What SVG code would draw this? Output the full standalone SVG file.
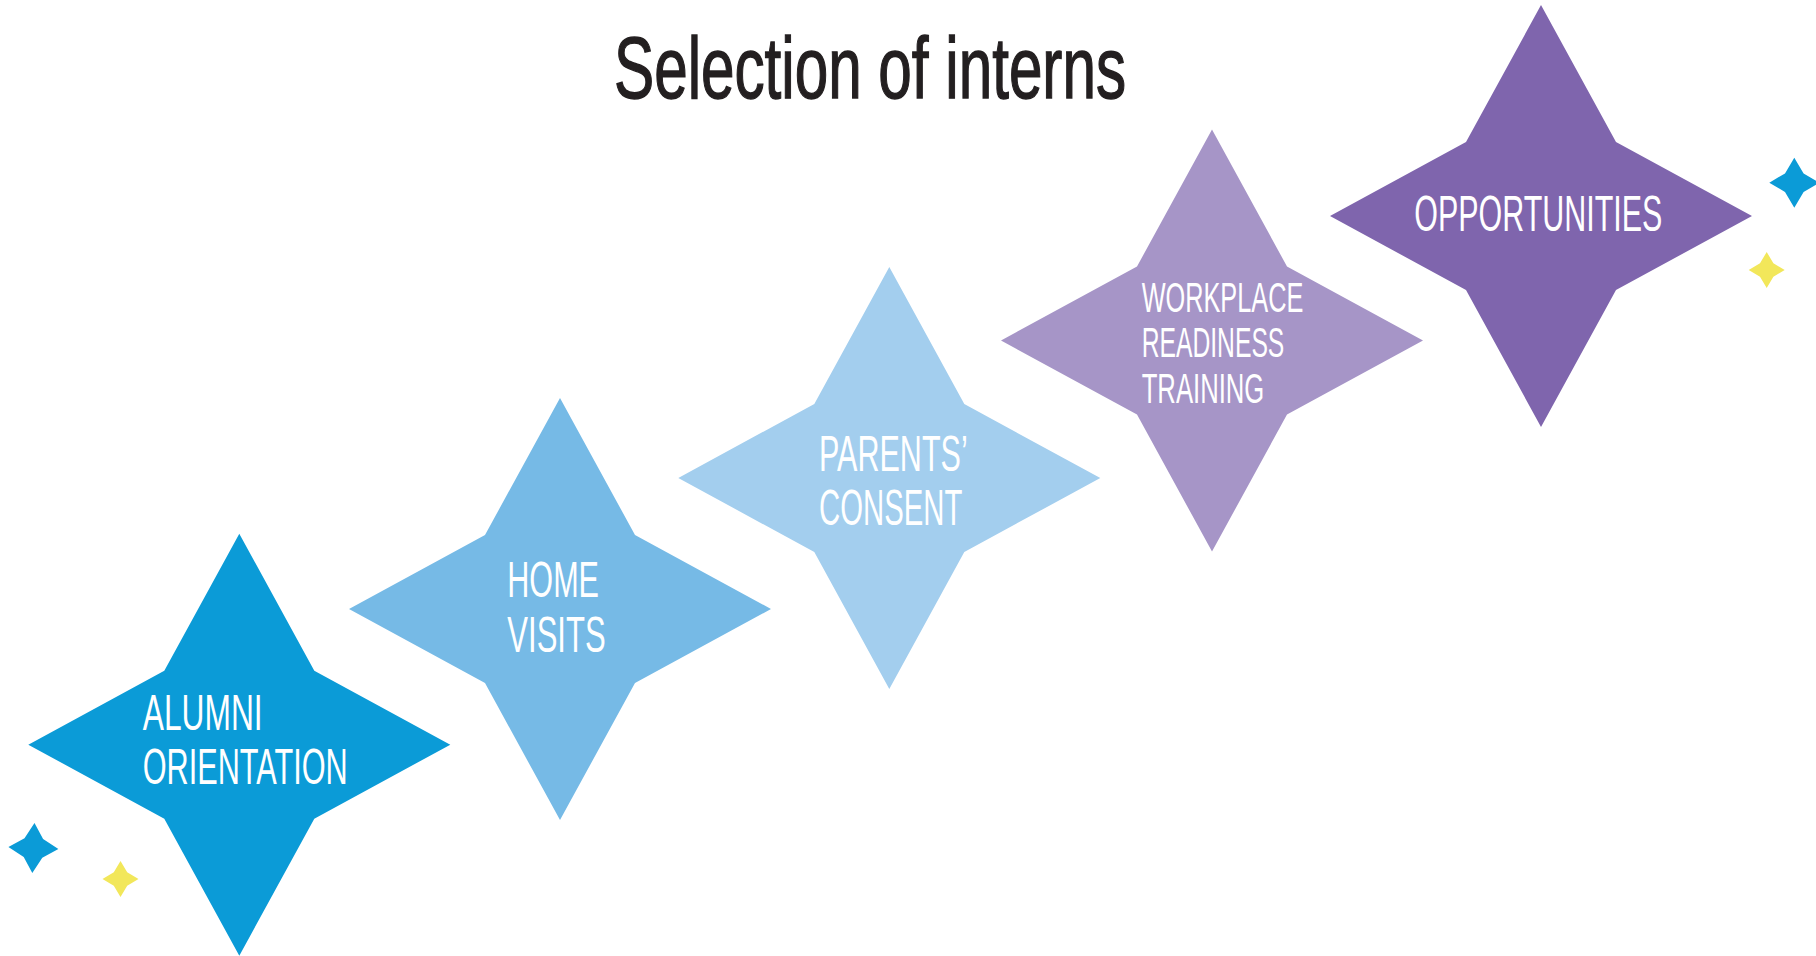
<svg xmlns="http://www.w3.org/2000/svg" xmlns:xlink="http://www.w3.org/1999/xlink" width="1816" height="956" viewBox="0 0 1816 956">
  <style>
    .title { font-family: "Liberation Sans", Arial, sans-serif; font-size: 87px; fill: #231f20; stroke: #231f20; stroke-width: 1.4px; }
    .lbl { font-family: "Liberation Sans", Arial, sans-serif; font-size: 50px; fill: #ffffff; }
    .lbl-s { font-family: "Liberation Sans", Arial, sans-serif; font-size: 42px; fill: #ffffff; }
  </style>
  <defs>
    <path id="star" d="M0,-211 L75,-74 L211,0 L75,74 L0,211 L-75,74 L-211,0 L-75,-74 Z"/>
    <path id="sparkle" d="M0,-25 L9.3,-9.3 L25,0 L9.3,9.3 L0,25 L-9.3,9.3 L-25,0 L-9.3,-9.3 Z"/>
  </defs>
  <rect width="1816" height="956" fill="#ffffff"/>

  <text class="title" x="614" y="97.7" textLength="512" lengthAdjust="spacingAndGlyphs">Selection of interns</text>

  <g id="connectors"></g>

  <g id="alumni-orientation">
    <use xlink:href="#star" href="#star" transform="translate(239.3,744.7)" fill="#0b9bd7"/>
    <text class="lbl" x="142.7" y="730" textLength="120" lengthAdjust="spacingAndGlyphs">ALUMNI</text>
    <text class="lbl" x="142.7" y="784" textLength="205" lengthAdjust="spacingAndGlyphs">ORIENTATION</text>
  </g>

  <g id="home-visits">
    <use xlink:href="#star" href="#star" transform="translate(560,609)" fill="#76bae6"/>
    <text class="lbl" x="507.3" y="597.3" textLength="91.7" lengthAdjust="spacingAndGlyphs">HOME</text>
    <text class="lbl" x="507.3" y="651.7" textLength="98.4" lengthAdjust="spacingAndGlyphs">VISITS</text>
  </g>

  <g id="parents-consent">
    <use xlink:href="#star" href="#star" transform="translate(889.3,478)" fill="#a3ceee"/>
    <text class="lbl" x="819" y="470.7" textLength="148.7" lengthAdjust="spacingAndGlyphs">PARENTS’</text>
    <text class="lbl" x="819" y="525" textLength="143.3" lengthAdjust="spacingAndGlyphs">CONSENT</text>
  </g>

  <g id="workplace-readiness-training">
    <use xlink:href="#star" href="#star" transform="translate(1212,340.5)" fill="#a695c7"/>
    <text class="lbl-s" x="1141.7" y="312.3" textLength="161.6" lengthAdjust="spacingAndGlyphs">WORKPLACE</text>
    <text class="lbl-s" x="1141.7" y="357.3" textLength="142.6" lengthAdjust="spacingAndGlyphs">READINESS</text>
    <text class="lbl-s" x="1141.7" y="402.7" textLength="122.6" lengthAdjust="spacingAndGlyphs">TRAINING</text>
  </g>

  <g id="opportunities">
    <use xlink:href="#star" href="#star" transform="translate(1541,216)" fill="#7f65ad"/>
    <text class="lbl" x="1414.3" y="230.7" textLength="248" lengthAdjust="spacingAndGlyphs">OPPORTUNITIES</text>
  </g>

  <g id="sparkles">
    <use xlink:href="#sparkle" href="#sparkle" transform="translate(1794.3,182.7)" fill="#0b9bd7"/>
    <use xlink:href="#sparkle" href="#sparkle" transform="translate(1766.7,270) scale(0.72)" fill="#f2e75a"/>
    <use xlink:href="#sparkle" href="#sparkle" transform="translate(33.4,848) rotate(2.5)" fill="#0b9bd7"/>
    <use xlink:href="#sparkle" href="#sparkle" transform="translate(120.5,879) scale(0.72)" fill="#f2e75a"/>
  </g>
</svg>
